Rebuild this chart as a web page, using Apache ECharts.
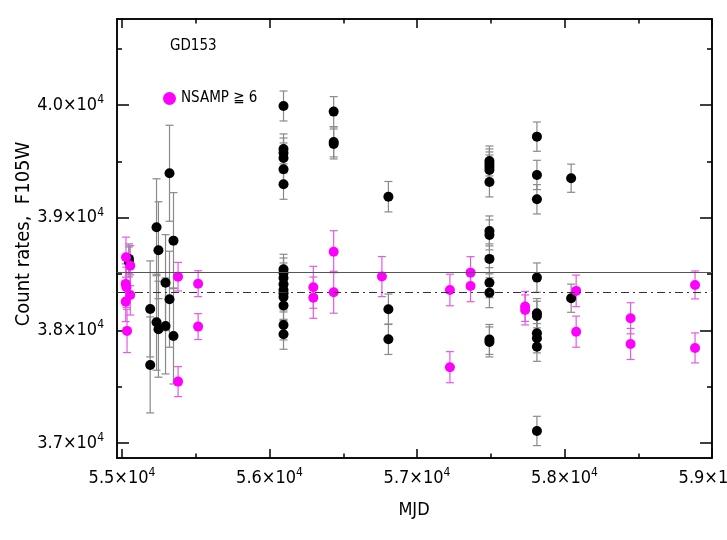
<!DOCTYPE html>
<html>
<head>
<meta charset="utf-8">
<title>GD153 F105W count rates</title>
<script src="https://cdn.jsdelivr.net/npm/echarts@6/dist/echarts.min.js"></script>
<style>
  html, body { margin: 0; padding: 0; background: #fff; }
  #chart { width: 727px; height: 540px; }
</style>
</head>
<body>
<div id="chart"></div>
<script>
// all points: [MJD, count rate, 1-sigma error]
const allPoints = [
  [55047, 38634, 133], [55047, 38607, 133],
  [55191, 38190, 426], [55191, 37693, 426],
  [55234, 38915, 430], [55247, 38711, 430], [55234, 38072, 426], [55247, 38010, 426],
  [55322, 39394, 426], [55295, 38423, 426], [55295, 38039, 426], [55322, 38276, 426],
  [55349, 38796, 426], [55349, 37950, 426],
  [56095, 39991, 133], [56095, 39610, 133], [56095, 39574, 133], [56095, 39530, 133],
  [56095, 39429, 133], [56095, 39296, 133],
  [56095, 38542, 133], [56095, 38509, 133], [56095, 38465, 133], [56095, 38409, 133],
  [56095, 38358, 133], [56095, 38329, 133], [56095, 38296, 133], [56095, 38221, 133],
  [56095, 38048, 133], [56095, 37965, 133],
  [56435, 39941, 133], [56435, 39672, 133], [56435, 39654, 133],
  [56806, 39186, 135], [56806, 38187, 135], [56806, 37921, 135],
  [57491, 39503, 133], [57491, 39477, 133], [57491, 39450, 133], [57491, 39423, 133],
  [57491, 39317, 133], [57491, 38882, 133], [57491, 38847, 133], [57491, 38634, 133],
  [57491, 38423, 133], [57491, 38334, 133], [57491, 37919, 133], [57491, 37897, 133],
  [57813, 39719, 130], [57813, 39379, 130], [57813, 39163, 130], [57813, 38468, 130],
  [57813, 38152, 130], [57813, 38128, 130], [57813, 37974, 130], [57813, 37930, 130],
  [57813, 37855, 130], [57813, 37107, 130],
  [58045, 39350, 125], [58045, 38285, 125]
]

// NSAMP >= 6 points
const nsampPoints = [
  [55027, 38649, 178], [55056, 38574, 178], [55025, 38412, 178], [55030, 38382, 178],
  [55056, 38314, 178], [55025, 38255, 178], [55034, 37995, 192],
  [55380, 38476, 127], [55380, 37545, 133], [55516, 38414, 115], [55516, 38033, 115],
  [56297, 38382, 186], [56297, 38290, 183], [56435, 38698, 186], [56435, 38338, 186],
  [56762, 38477, 178],
  [57223, 38358, 140], [57223, 37673, 138],
  [57363, 38512, 142], [57363, 38394, 140],
  [57733, 38212, 133], [57733, 38181, 133],
  [58079, 38350, 140], [58079, 37988, 138],
  [58448, 38107, 138], [58448, 37879, 138],
  [58885, 38403, 124], [58885, 37844, 133]
]

const meanAll = 38517
const meanNsamp = 38341

const xMin = 54966
const xMax = 59000
const yMin = 36867
const yMax = 40763
const xMajor = [55000, 56000, 57000, 58000, 59000]
const xMinor = [55500, 56500, 57500, 58500]
const yMajor = [37000, 38000, 39000, 40000]
const yMinor = [37500, 38500, 39500, 40500]

const font = '"DejaVu Sans Condensed", "DejaVu Sans", sans-serif'

// label like 5.5x10^4
function sciLabel (v) {
  const m = (v / 10000).toFixed(1)
  return '{a|' + m + '×10}{b|4}'
}
const sciRich = {
  a: { fontFamily: font, fontSize: 18, color: '#000' },
  b: { fontFamily: font, fontSize: 12, color: '#000', verticalAlign: 'bottom', padding: [0, 0, 10, 0] }
}

function tickAxis (pos, values, len, labels) {
  const isX = pos === 'bottom' || pos === 'top'
  return {
    type: 'value',
    position: pos,
    min: isX ? xMin : yMin,
    max: isX ? xMax : yMax,
    axisLine: { show: true, onZero: false, lineStyle: { color: '#000', width: 1.5 } },
    axisTick: { show: true, inside: true, length: len, customValues: values, lineStyle: { color: '#000', width: 1.5 } },
    axisLabel: labels
      ? { show: true, customValues: values, formatter: sciLabel, rich: sciRich, margin: pos === 'left' ? 13 : 9 }
      : { show: false },
    splitLine: { show: false }
  }
}

function errorSeries (data, color) {
  return {
    type: 'custom',
    clip: true,
    silent: true,
    z: 1,
    data: data,
    renderItem (params, api) {
      const x = api.value(0)
      const y = api.value(1)
      const e = api.value(2)
      const top = api.coord([x, y + e])
      const bot = api.coord([x, y - e])
      const w = 4
      const st = { stroke: color, lineWidth: 1.2 }
      return {
        type: 'group',
        children: [
          { type: 'line', shape: { x1: top[0], y1: top[1], x2: bot[0], y2: bot[1] }, style: st },
          { type: 'line', shape: { x1: top[0] - w, y1: top[1], x2: top[0] + w, y2: top[1] }, style: st },
          { type: 'line', shape: { x1: bot[0] - w, y1: bot[1], x2: bot[0] + w, y2: bot[1] }, style: st }
        ]
      }
    }
  }
}

const chart = echarts.init(document.getElementById('chart'))

const option = {
  animation: false,
  backgroundColor: '#fff',
  // keep the plot box fixed, let the last x label run off the edge
  grid: { left: 117, right: 15, top: 19, bottom: 82, containLabel: false, outerBoundsMode: 'none' },
  xAxis: [
    tickAxis('bottom', xMajor, 9, true),
    tickAxis('bottom', xMinor, 4.5, false),
    tickAxis('top', xMajor, 9, false),
    tickAxis('top', xMinor, 4.5, false)
  ],
  yAxis: [
    tickAxis('left', yMajor, 12, true),
    tickAxis('left', yMinor, 5, false),
    tickAxis('right', yMajor, 12, false),
    tickAxis('right', yMinor, 5, false)
  ],
  legend: {
    left: 158,
    top: 86,
    itemWidth: 13,
    itemHeight: 13,
    itemGap: 10,
    data: [{ name: 'NSAMP ≧ 6', icon: 'circle' }],
    textStyle: { fontFamily: font, fontSize: 15, color: '#000' }
  },
  graphic: [
    {
      type: 'text', left: 170, top: 39,
      style: { text: 'GD153', font: '15px ' + font, fill: '#000' }
    },
    {
      type: 'text', x: 414, y: 510,
      style: { text: 'MJD', font: '18px ' + font, fill: '#000', align: 'center', verticalAlign: 'middle' }
    },
    {
      type: 'text', x: 24, y: 234, rotation: Math.PI / 2,
      style: { text: 'Count rates,  F105W', font: '20px ' + font, fill: '#000', align: 'center', verticalAlign: 'middle' }
    }
  ],
  series: [
    errorSeries(allPoints, '#8a8a8a'),
    errorSeries(nsampPoints, '#e45ae4'),
    {
      name: 'all',
      type: 'scatter',
      symbol: 'circle',
      symbolSize: 10,
      z: 3,
      itemStyle: { color: '#000', opacity: 1 },
      data: allPoints.map(p => [p[0], p[1]]),
      markLine: {
        silent: true,
        symbol: 'none',
        label: { show: false },
        data: [
          { yAxis: meanAll, lineStyle: { color: '#555', width: 1.2, type: 'solid' } },
          { yAxis: meanNsamp, lineStyle: { color: '#333', width: 1.2, type: [8, 4, 2, 4] } }
        ]
      }
    },
    {
      name: 'NSAMP ≧ 6',
      type: 'scatter',
      symbol: 'circle',
      symbolSize: 10,
      z: 4,
      itemStyle: { color: '#ff00ff', opacity: 1 },
      data: nsampPoints.map(p => [p[0], p[1]])
    }
  ]
}

chart.setOption(option)
</script>
</body>
</html>
